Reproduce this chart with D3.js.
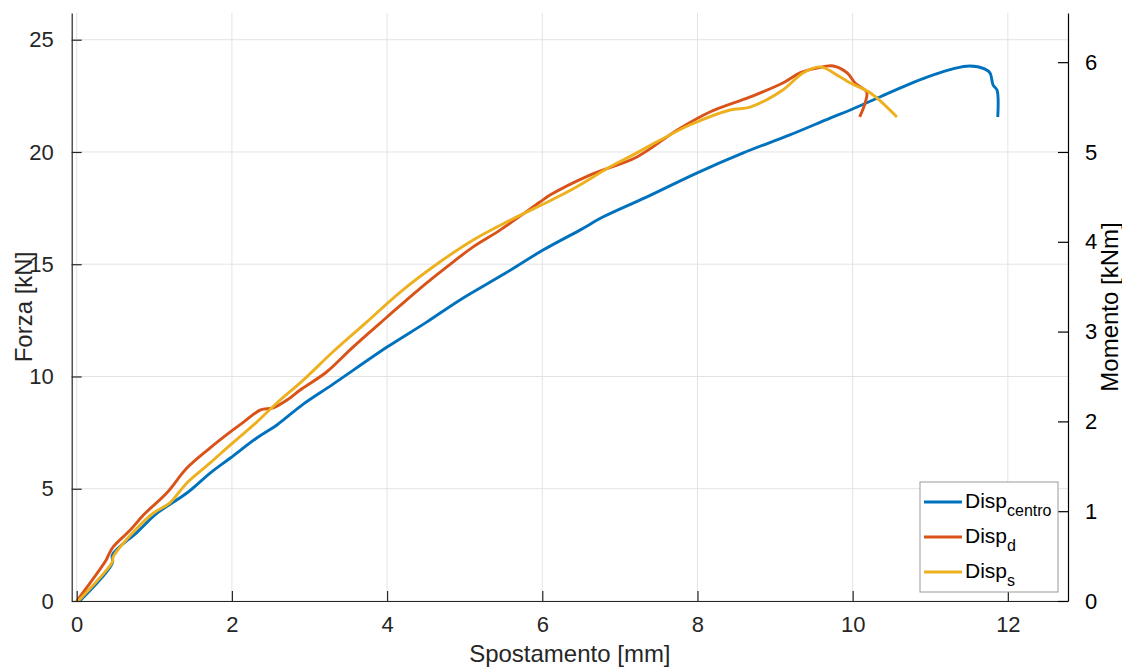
<!DOCTYPE html>
<html>
<head>
<meta charset="utf-8">
<script src="https://cdn.jsdelivr.net/npm/d3@7"></script>
<style>
  body { margin: 0; background: #fff; }
  svg { font-family: "Liberation Sans", Arial, sans-serif; }
</style>
</head>
<body>
<script>
// values
const centroX = [0.04, 0.46, 0.46, 0.78, 1.04, 1.42, 1.72, 1.98, 2.32, 2.58, 2.92, 3.30, 4.00, 4.50, 4.94, 5.50, 6.01, 6.49, 6.78, 7.35, 7.99, 8.59, 9.19, 9.71, 9.97, 10.35, 10.70, 11.04, 11.29, 11.51, 11.70, 11.77, 11.81, 11.86, 11.87]
const centroF = [0, 1.69, 2.05, 3.07, 3.92, 4.81, 5.70, 6.37, 7.26, 7.84, 8.77, 9.65, 11.31, 12.40, 13.41, 14.55, 15.63, 16.53, 17.10, 18.0, 19.06, 19.96, 20.76, 21.51, 21.87, 22.45, 22.98, 23.43, 23.70, 23.83, 23.70, 23.52, 22.98, 22.76, 21.56]

const dX = [0.0, 0.38, 0.41, 0.47, 0.69, 0.86, 1.16, 1.42, 1.72, 1.98, 2.15, 2.37, 2.53, 2.71, 2.88, 3.22, 3.56, 4.0, 4.40, 4.77, 5.10, 5.46, 5.97, 6.10, 6.62, 7.22, 7.74, 8.16, 8.68, 9.10, 9.32, 9.54, 9.75, 9.93, 10.03, 10.18, 10.16, 10.09]
const dF = [0, 1.83, 2.05, 2.41, 3.16, 3.83, 4.81, 5.92, 6.82, 7.53, 7.97, 8.51, 8.60, 8.95, 9.40, 10.20, 11.31, 12.65, 13.85, 14.88, 15.75, 16.53, 17.77, 18.08, 18.98, 19.78, 20.98, 21.78, 22.45, 23.07, 23.52, 23.74, 23.83, 23.52, 23.07, 22.67, 22.18, 21.56]

const sX = [0.02, 0.46, 0.47, 0.78, 0.99, 1.20, 1.42, 1.72, 1.98, 2.32, 2.58, 2.92, 3.30, 3.74, 4.17, 4.68, 5.11, 5.54, 6.12, 6.44, 6.87, 7.17, 7.52, 7.90, 8.42, 8.68, 9.10, 9.36, 9.58, 9.84, 9.97, 10.23, 10.57]
const sF = [0, 1.74, 1.96, 3.25, 3.92, 4.37, 5.26, 6.15, 6.95, 7.97, 8.82, 9.84, 11.09, 12.43, 13.76, 15.10, 16.08, 16.88, 17.86, 18.44, 19.33, 19.87, 20.53, 21.20, 21.87, 22.0, 22.76, 23.52, 23.79, 23.34, 23.07, 22.63, 21.56]

const xTicks = [0, 2, 4, 6, 8, 10, 12]
const yTicks = [0, 5, 10, 15, 20, 25]
const mTicks = [0, 1, 2, 3, 4, 5, 6]
const names = [["Disp", "centro"], ["Disp", "d"], ["Disp", "s"]]
const colors = ["#0072BD", "#D95319", "#EDB120"]

const W = 1122, H = 668
const pL = 71.7, pR = 1068, pT = 13, pB = 601

const svg = d3.select("body").append("svg").attr("width", W).attr("height", H)

const x = d3.scaleLinear().domain([-0.0644, 12.775]).range([pL, pR])
const y = d3.scaleLinear().domain([0, 26.19]).range([pB, pT])
const yM = d3.scaleLinear().domain([0, 26.19 / 4]).range([pB, pT])

// grid
const grid = svg.append("g").attr("stroke", "#e3e3e3").attr("stroke-width", 1)
grid.selectAll(".gx").data(xTicks).enter().append("line")
    .attr("x1", d => x(d)).attr("x2", d => x(d)).attr("y1", pT).attr("y2", pB)
grid.selectAll(".gy").data(yTicks).enter().append("line")
    .attr("x1", pL).attr("x2", pR).attr("y1", d => y(d)).attr("y2", d => y(d))

// curves
const series = [[centroX, centroF], [dX, dF], [sX, sF]]
const line = d3.line().x(d => x(d[0])).y(d => y(d[1])).curve(d3.curveCatmullRom.alpha(0.5))
series.forEach((s, i) => {
    const pts = s[0].map((v, j) => [v, s[1][j]])
    svg.append("path")
        .attr("d", line(pts))
        .attr("fill", "none")
        .attr("stroke", colors[i])
        .attr("stroke-width", 2.9)
        .attr("stroke-linejoin", "round")
})

// axes (ticks inward, like matlab)
const fmt = d3.format("d")
const axX = svg.append("g").attr("transform", `translate(0,${pB})`)
    .call(d3.axisBottom(x).tickValues(xTicks).tickFormat(fmt).tickSizeInner(-10).tickSizeOuter(0).tickPadding(15))
const axY = svg.append("g").attr("transform", `translate(${pL},0)`)
    .call(d3.axisLeft(y).tickValues(yTicks).tickFormat(fmt).tickSizeInner(-10).tickSizeOuter(0).tickPadding(18))
const axM = svg.append("g").attr("transform", `translate(${pR},0)`)
    .call(d3.axisRight(yM).tickValues(mTicks).tickFormat(fmt).tickSizeInner(-10).tickSizeOuter(0).tickPadding(17))

;[axX, axY, axM].forEach(a => {
    a.select(".domain").attr("stroke", "#262626").attr("stroke-width", 1.2)
    a.selectAll(".tick line").attr("stroke", "#262626").attr("stroke-width", 1.2)
    a.selectAll("text").attr("fill", "#262626").attr("font-size", 22)
        .attr("font-family", "Liberation Sans, Arial, sans-serif")
})
axM.select(".domain").attr("stroke", "#000")
axM.selectAll(".tick line").attr("stroke", "#000")
axM.selectAll("text").attr("fill", "#000")

// axis labels
svg.append("text").text("Spostamento [mm]")
    .attr("x", (pL + pR) / 2).attr("y", 662)
    .attr("text-anchor", "middle").attr("font-size", 24).attr("fill", "#262626")
svg.append("text").text("Forza [kN]")
    .attr("transform", `translate(32,${(pT + pB) / 2}) rotate(-90)`)
    .attr("text-anchor", "middle").attr("font-size", 24).attr("fill", "#262626")
svg.append("text").text("Momento [kNm]")
    .attr("transform", `translate(1118,${(pT + pB) / 2}) rotate(-90)`)
    .attr("text-anchor", "middle").attr("font-size", 24).attr("fill", "#000")

// legend
const lg = svg.append("g")
lg.append("rect").attr("x", 920).attr("y", 482).attr("width", 138).attr("height", 110)
    .attr("fill", "#fff").attr("stroke", "#999").attr("stroke-width", 1)
const rowY = [502, 537, 572]
names.forEach((n, i) => {
    lg.append("line").attr("x1", 924).attr("x2", 962).attr("y1", rowY[i]).attr("y2", rowY[i])
        .attr("stroke", colors[i]).attr("stroke-width", 2.9)
    const t = lg.append("text").attr("x", 965).attr("y", rowY[i] + 6)
        .attr("font-size", 21).attr("fill", "#000")
    t.append("tspan").text(n[0])
    t.append("tspan").text(n[1]).attr("font-size", 16).attr("dy", 8)
})
</script>
</body>
</html>
